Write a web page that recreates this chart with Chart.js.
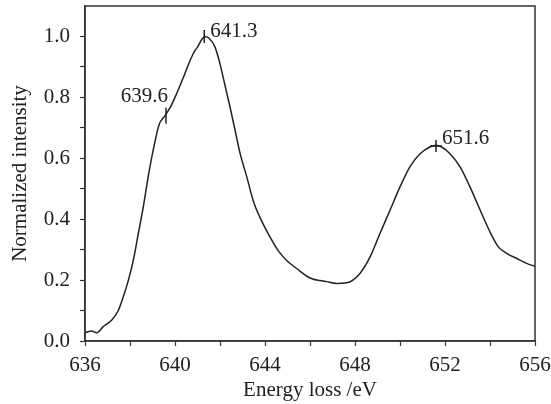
<!DOCTYPE html>
<html>
<head>
<meta charset="utf-8">
<script src="https://cdn.jsdelivr.net/npm/chart.js@4"></script>
<style>
html, body { margin: 0; padding: 0; background: #fff; }
#wrap { width: 551px; height: 404px; }
</style>
</head>
<body>
<div id="wrap"><canvas id="c"></canvas></div>
<script>
// spectrum
const energy = [636.0, 636.3, 636.52, 636.81, 637.19, 637.48, 637.7, 637.93, 638.15, 638.37, 638.59, 638.81, 639.04, 639.3, 639.51, 639.78, 640.07, 640.44, 640.67, 640.89, 641.0, 641.19, 641.32, 641.5, 641.78, 642.0, 642.22, 642.44, 642.67, 642.89, 643.19, 643.48, 643.78, 644.22, 644.6, 645.0, 645.41, 646.0, 646.74, 647.19, 647.63, 648.22, 648.67, 649.11, 649.56, 650.0, 650.44, 650.89, 651.33, 651.6, 651.85, 652.22, 652.67, 653.11, 653.56, 654.0, 654.37, 654.74, 655.19, 655.63, 656.0];
const intensity = [0.027, 0.033, 0.027, 0.047, 0.069, 0.100, 0.145, 0.200, 0.266, 0.353, 0.440, 0.540, 0.630, 0.712, 0.735, 0.766, 0.812, 0.878, 0.921, 0.954, 0.965, 0.990, 1.000, 0.995, 0.965, 0.910, 0.840, 0.770, 0.692, 0.617, 0.539, 0.460, 0.405, 0.342, 0.295, 0.262, 0.238, 0.207, 0.195, 0.189, 0.191, 0.222, 0.276, 0.353, 0.430, 0.506, 0.572, 0.615, 0.637, 0.643, 0.637, 0.615, 0.572, 0.506, 0.430, 0.358, 0.309, 0.288, 0.271, 0.255, 0.245];

// marked peaks
const markE = [639.6, 641.3, 651.6];
const markI = [0.74, 1.0, 0.64];
const markText = ['639.6', '641.3', '651.6'];

const xTicks = [636, 640, 644, 648, 652, 656];
const yTicks = [0.0, 0.2, 0.4, 0.6, 0.8, 1.0];

const FONT = 'Liberation Serif';
const INK = '#222';
const PLOT_TOP = 6;

// pin the top of the plot box
const topPlugin = {
  id: 'pinTop',
  afterLayout(chart) {
    const a = chart.chartArea;
    const y = chart.scales.y;
    if (a.top === PLOT_TOP) return;
    a.top = PLOT_TOP;
    a.height = a.bottom - a.top;
    y.top = PLOT_TOP;
    y.height = y.bottom - y.top;
    y.configure();
  }
};

const boxPlugin = {
  id: 'box',
  afterDraw(chart) {
    const { ctx, chartArea: a } = chart;
    ctx.save();
    ctx.strokeStyle = '#333';
    ctx.lineWidth = 1.5;
    ctx.strokeRect(a.left, a.top, a.right - a.left, a.bottom - a.top);
    ctx.restore();
  }
};

// peak labels next to the marks
const labelPlugin = {
  id: 'peakLabels',
  afterDatasetsDraw(chart) {
    const { ctx, scales: { x, y } } = chart;
    ctx.save();
    ctx.font = '21px "' + FONT + '"';
    ctx.fillStyle = INK;
    ctx.textBaseline = 'middle';
    markE.forEach((e, i) => {
      const px = x.getPixelForValue(e);
      const py = y.getPixelForValue(markI[i]);
      if (i === 0) {
        ctx.textAlign = 'right';
        ctx.fillText(markText[i], px + 2, py - 19);
      } else if (i === 1) {
        ctx.textAlign = 'left';
        ctx.fillText(markText[i], px + 6, py - 5);
      } else {
        ctx.textAlign = 'left';
        ctx.fillText(markText[i], px + 6, py - 8);
      }
    });
    ctx.restore();
  }
};

new Chart(document.getElementById('c'), {
  type: 'scatter',
  data: {
    datasets: [
      {
        data: energy.map((e, i) => ({ x: e, y: intensity[i] })),
        showLine: true,
        borderColor: INK,
        borderWidth: 1.5,
        pointRadius: 0,
        cubicInterpolationMode: 'monotone'
      },
      {
        data: markE.map((e, i) => ({ x: e, y: markI[i] })),
        showLine: false,
        pointStyle: ['line', 'line', 'cross'],
        rotation: [90, 90, 0],
        pointRadius: [8, 6.5, 6],
        borderColor: INK,
        borderWidth: 1.5
      }
    ]
  },
  plugins: [topPlugin, boxPlugin, labelPlugin],
  options: {
    responsive: true,
    maintainAspectRatio: false,
    animation: false,
    layout: { padding: { top: 6, right: 16, left: 0, bottom: 0 } },
    plugins: { legend: { display: false }, tooltip: { enabled: false } },
    scales: {
      x: {
        type: 'linear',
        min: 636, max: 656,
        border: { color: '#333', width: 1.5 },
        grid: { drawOnChartArea: false, tickLength: 5, color: '#333', tickWidth: 1.2 },
        ticks: {
          stepSize: 2,
          color: INK,
          padding: 7,
          maxRotation: 0,
          font: { family: FONT, size: 21 },
          callback: (v) => xTicks.includes(v) ? String(v) : ''
        },
        title: {
          display: true,
          text: 'Energy loss /eV',
          color: INK,
          font: { family: FONT, size: 21 },
          padding: { top: 0, bottom: 1 }
        },
        afterFit: (s) => { s.height = 63; s.paddingLeft = 0; s.paddingRight = 0; }
      },
      y: {
        type: 'linear',
        min: 0, max: 1.1,
        border: { color: '#333', width: 1.5 },
        grid: { drawOnChartArea: false, tickLength: 5, color: '#333', tickWidth: 1.2 },
        afterBuildTicks: (s) => { s.ticks = s.ticks.filter(t => t.value < 1.05); },
        ticks: {
          stepSize: 0.1,
          color: INK,
          padding: 10,
          font: { family: FONT, size: 21 },
          callback: (v) => yTicks.some(t => Math.abs(t - v) < 1e-6) ? v.toFixed(1) : ''
        },
        title: {
          display: true,
          text: 'Normalized intensity',
          color: INK,
          font: { family: FONT, size: 21 },
          padding: { top: 8, bottom: 0 }
        },
        afterFit: (s) => { s.width = 85; s.paddingTop = 0; s.paddingBottom = 0; }
      }
    }
  }
});
</script>
</body>
</html>
